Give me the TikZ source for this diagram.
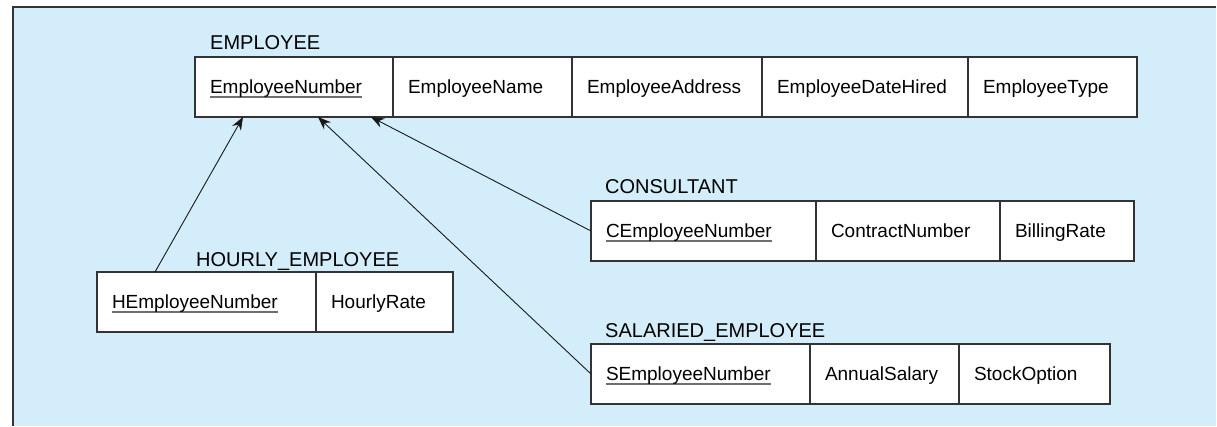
\documentclass[tikz,border=0pt]{standalone}
\usepackage{fontspec}
\setmainfont{Liberation Sans}
\usetikzlibrary{arrows.meta,calc}
\definecolor{bgblue}{RGB}{211,238,250}
\definecolor{ulgray}{RGB}{110,110,110}
\newcommand\ulx[1]{{\setbox0\hbox{#1}\rlap{\textcolor{ulgray}{\rule[-4.4pt]{\wd0}{1.4pt}}}\box0}}
\newcommand\cellt[2]{\makebox[\dimexpr#1pt-30pt\relax][l]{#2}}
\tikzset{
  cell/.style={draw=black!80, line width=1.1pt, fill=white, anchor=north west,
    minimum height=60pt, inner xsep=15pt, inner ysep=0pt, outer sep=0pt,
    text height=16pt, text depth=3.4pt, font=\fontsize{19}{21}\selectfont},
  title/.style={anchor=base west, inner sep=0pt, font=\fontsize{20}{22}\selectfont},
  link/.style={line width=0.9pt, black!90, -{Stealth[length=13pt,width=10pt]}},
  frame/.style={line width=1.6pt, black!80}
}
\begin{document}
\begin{tikzpicture}[x=1pt,y=-1pt]
\useasboundingbox (0,0) rectangle (1217,426);
\fill[bgblue] (13,7) rectangle (1216,426);
\draw[frame] (13,426) -- (13,7) -- (1216,7);

% EMPLOYEE
\node[title] (te) at (210,49) {EMPLOYEE};
\node[cell, minimum width=198pt] (e1) at (195,57) {\cellt{198}{\ulx{EmployeeNumber}}};
\node[cell, minimum width=179pt] (e2) at (e1.north east) {\cellt{179}{EmployeeName}};
\node[cell, minimum width=190pt] (e3) at (e2.north east) {\cellt{190}{EmployeeAddress}};
\node[cell, minimum width=206pt] (e4) at (e3.north east) {\cellt{206}{EmployeeDateHired}};
\node[cell, minimum width=169pt] (e5) at (e4.north east) {\cellt{169}{EmployeeType}};

% HOURLY_EMPLOYEE
\node[title] (th) at (196,266) {HOURLY\_EMPLOYEE};
\node[cell, minimum width=219pt] (h1) at (97,272) {\cellt{219}{\ulx{HEmployeeNumber}}};
\node[cell, minimum width=137pt] (h2) at (h1.north east) {\cellt{137}{HourlyRate}};

% CONSULTANT
\node[title] (tc) at (605,193) {CONSULTANT};
\node[cell, minimum width=225pt] (c1) at (591,201) {\cellt{225}{\ulx{CEmployeeNumber}}};
\node[cell, minimum width=184pt] (c2) at (c1.north east) {\cellt{184}{ContractNumber}};
\node[cell, minimum width=134pt] (c3) at (c2.north east) {\cellt{134}{BillingRate}};

% SALARIED_EMPLOYEE
\node[title] (ts) at (605,337) {SALARIED\_EMPLOYEE};
\node[cell, minimum width=219pt] (s1) at (591,344) {\cellt{219}{\ulx{SEmployeeNumber}}};
\node[cell, minimum width=149pt] (s2) at (s1.north east) {\cellt{149}{AnnualSalary}};
\node[cell, minimum width=151pt] (s3) at (s2.north east) {\cellt{151}{StockOption}};

% connectors
\draw[link] ($(h1.north west)+(58,0)$) -- ($(e1.south west)+(48,0)$);
\draw[link] (s1.west) -- ($(e1.south west)+(123,0)$);
\draw[link] (c1.west) -- ($(e1.south west)+(176,0)$);
\end{tikzpicture}
\end{document}
